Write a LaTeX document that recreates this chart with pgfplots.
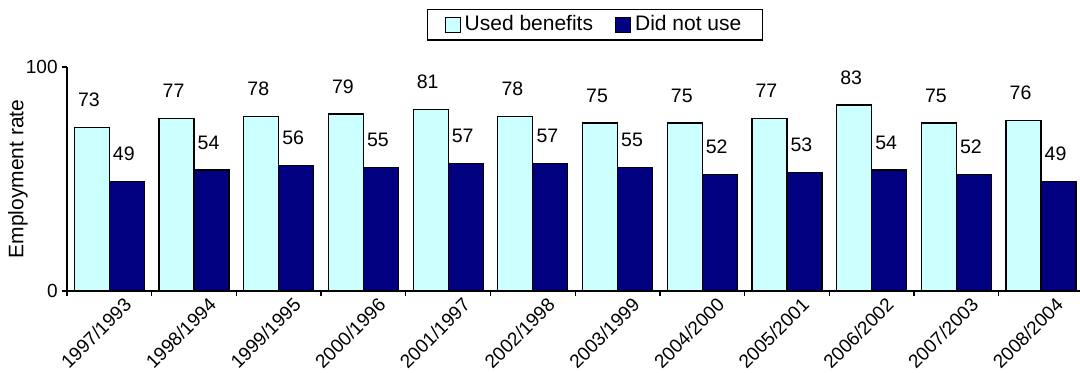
\documentclass[border=0pt]{standalone}
\usepackage{pgfplots}
\pgfplotsset{compat=1.18}
\usepackage{fontspec}
\setmainfont{Liberation Sans}
\definecolor{lcyan}{HTML}{CCFFFF}
\definecolor{navy}{HTML}{000080}
\begin{document}
\fontsize{10.5}{12.6}\selectfont
\begin{tikzpicture}
\path[use as bounding box] (-33.5pt,-41pt) rectangle (506.5pt,145.5pt);
\begin{axis}[
  scale only axis, width=508.2pt, height=112pt,
  xmin=-0.5, xmax=11.5, ymin=0, ymax=100,
  axis lines*=left,
  axis line style={-, line width=0.65pt},
  ybar=0pt, bar width=0.413,
  ytick={0,100},
  xtick={0.16,1.16,...,11.16},
  xticklabels={1997/1993,1998/1994,1999/1995,2000/1996,2001/1997,2002/1998,2003/1999,2004/2000,2005/2001,2006/2002,2007/2003,2008/2004},
  minor xtick={-0.5,0.5,...,11.5},
  tick align=outside, major tick length=2.5pt, minor tick length=2.5pt,
  major x tick style={draw=none},
  every tick/.style={black, line width=0.65pt},
  minor tick style={black, line width=0.65pt},
  x tick label style={rotate=45, anchor=north east, inner sep=0pt},
  y tick label style={inner sep=2pt},
  tick label style={font=\fontsize{9.5}{11.4}\selectfont},
  /pgf/number format/assume math mode=true,
  ylabel={Employment rate},
  ylabel style={at={(axis description cs:-0.0482,0.5)}, anchor=center, rotate=0},
  nodes near coords,
  every node near coord/.append style={anchor=center, yshift=13.75pt, xshift=-1.5pt, font=\fontsize{9.75}{11.7}\selectfont, black},
  legend columns=2,
  legend style={at={(0.5195,1.259)}, anchor=north, draw=black, line width=0.6pt,
    inner xsep=8.5pt, inner ysep=1pt, font=\fontsize{10.5}{12.6}\selectfont,
    /tikz/every odd column/.append style={column sep=0pt},
    /tikz/every even column/.append style={column sep=9pt},
    nodes={inner xsep=2pt}},
  legend image code/.code={\draw[#1, line width=0.5pt] (0pt,-3.75pt) rectangle (7.5pt,3.75pt);},
]
\addplot[fill=lcyan, draw=black, line width=0.6pt] coordinates {
(0,73) (1,77) (2,78) (3,79) (4,81) (5,78) (6,75) (7,75) (8,77) (9,83) (10,75) (11,76)};
\addplot[fill=navy, draw=black, line width=0.6pt] coordinates {
(0,49) (1,54) (2,56) (3,55) (4,57) (5,57) (6,55) (7,52) (8,53) (9,54) (10,52) (11,49)};
\legend{Used benefits, Did not use\hspace{7pt}}
\end{axis}
\end{tikzpicture}
\end{document}
